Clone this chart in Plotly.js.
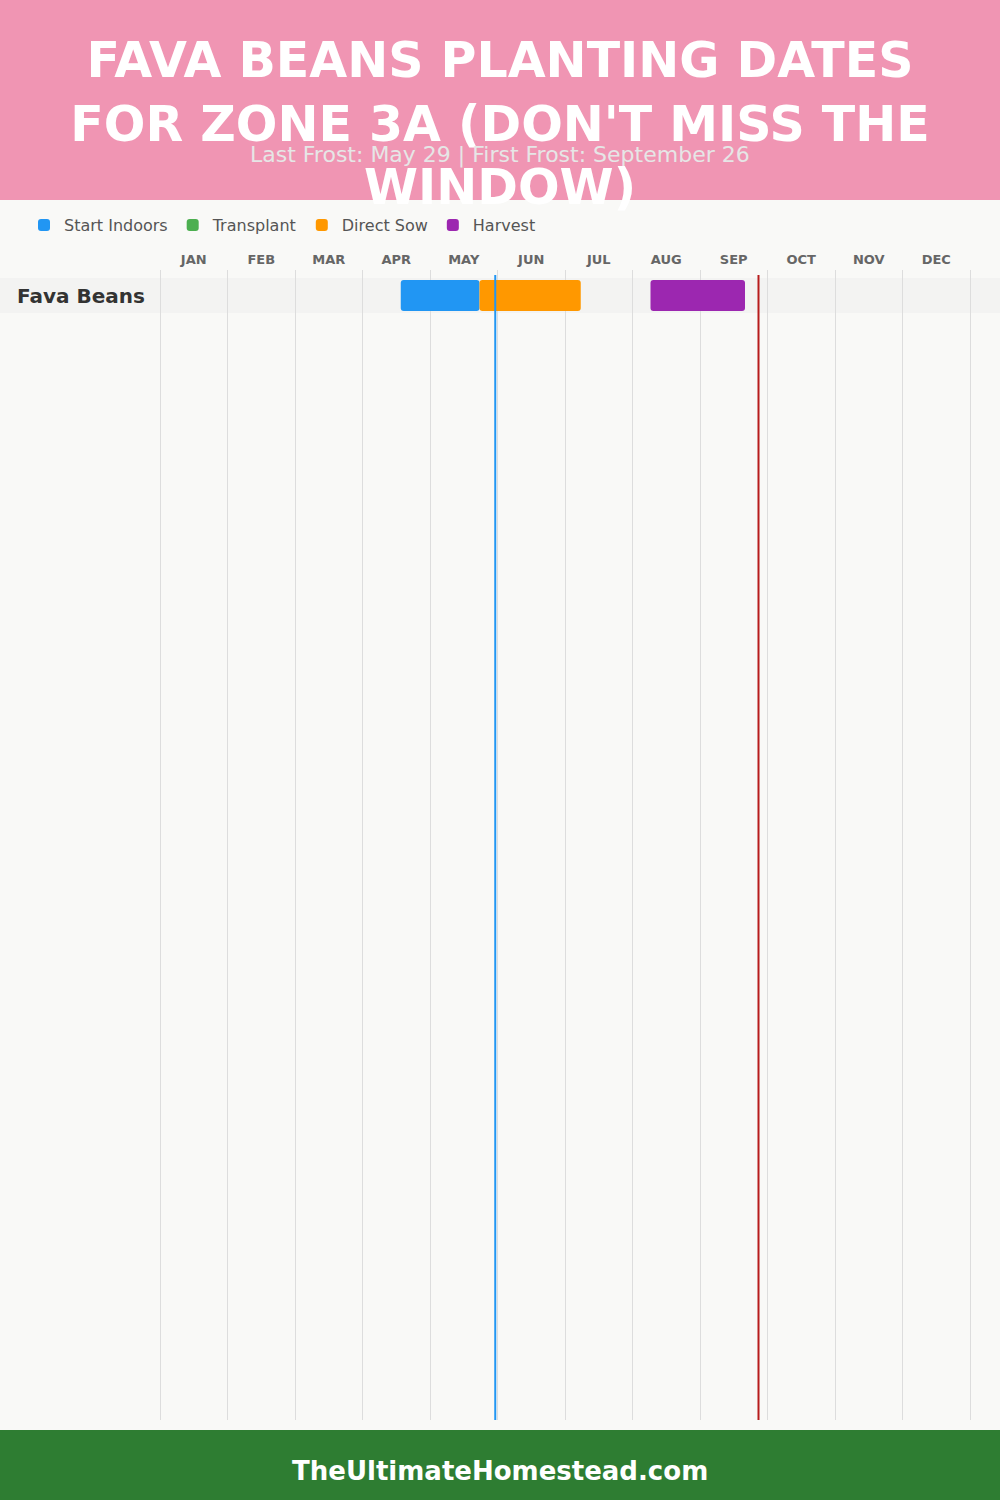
<!DOCTYPE html>
<html><head><meta charset="utf-8">
<script src="https://cdn.plot.ly/plotly-3.0.1.min.js"></script>
<style>html,body{margin:0;padding:0;background:#f9f9f7}#chart{width:1000px;height:1500px}</style>
</head><body><div id="chart"></div>
<script>
// ---- data ----
const titleLines = ["FAVA BEANS PLANTING DATES", "FOR ZONE 3A (DON'T MISS THE", "WINDOW)"];
const subtitle = "Last Frost: May 29 | First Frost: September 26";
const footerText = "TheUltimateHomestead.com";
const months = ["JAN","FEB","MAR","APR","MAY","JUN","JUL","AUG","SEP","OCT","NOV","DEC"];
const crops = ["Fava Beans"];
const phaseNames = ["Start Indoors", "Transplant", "Direct Sow", "Harvest"];
const phaseColors = ["#2196f3", "#4caf50", "#ff9800", "#9c27b0"];
// [month(1-12), day] start / end per crop, null when none
const startIndoorsStart = [[4, 17]];
const startIndoorsEnd   = [[5, 22]];
const transplantStart   = [null];
const transplantEnd     = [null];
const directSowStart    = [[5, 22]];
const directSowEnd      = [[7, 7]];
const harvestStart      = [[8, 8]];
const harvestEnd        = [[9, 20]];
const lastFrost  = [5, 29];
const firstFrost = [9, 26];

// ---- helpers ----
const pos = d => d ? (d[0] - 1) + d[1] / 30 : null;
const starts = [startIndoorsStart, transplantStart, directSowStart, harvestStart];
const ends   = [startIndoorsEnd, transplantEnd, directSowEnd, harvestEnd];

const FONT = 'DejaVu Sans, sans-serif';
const W = 1000, H = 1500, L = 158, R = 28, T = 270, B = 80;
const plotW = W - L - R, plotH = H - T - B;
const eps = 24 / 810;                           // widen range by 2px each side so edge gridlines show
const pxX = px => (px - L) / plotW;            // page px -> paper x
const pxY = py => (H - B - py) / plotH;        // page py -> paper y
const unit = 35;                                // px per category row
const topOff = 25.5 / unit;
const yRange = [plotH / unit - topOff, -topOff];

const traces = phaseNames.map((name, i) => {
  const b = starts[i].map(pos);
  const e = ends[i].map(pos);
  return {
    type: 'bar', orientation: 'h', name: name,
    y: crops, base: b,
    x: e.map((v, k) => (v === null || b[k] === null) ? null : v - b[k]),
    width: 31 / unit,
    marker: {color: phaseColors[i], cornerradius: 3, line: {width: 0}},
    hoverinfo: 'skip', showlegend: true
  };
});

const shapes = [
  {type:'rect', xref:'paper', yref:'paper', x0:pxX(0), x1:pxX(1000), y0:pxY(200), y1:pxY(0),
   fillcolor:'#f095b3', line:{width:0}, layer:'below'},
  {type:'rect', xref:'paper', yref:'paper', x0:pxX(0), x1:pxX(1000), y0:pxY(1500), y1:pxY(1430),
   fillcolor:'#2e7d32', line:{width:0}, layer:'below'},
];
crops.forEach((c, k) => shapes.push({type:'rect', xref:'paper', yref:'y', x0:pxX(0), x1:pxX(1000),
   y0:k - 0.5, y1:k + 0.5, fillcolor:'#f3f3f2', line:{width:0}, layer:'below'}));
shapes.push({type:'line', xref:'x', yref:'paper', x0:pos(lastFrost), x1:pos(lastFrost), y0:0, y1:pxY(275),
   line:{color:'#2196f3', width:2}});
shapes.push({type:'line', xref:'x', yref:'paper', x0:pos(firstFrost), x1:pos(firstFrost), y0:0, y1:pxY(275),
   line:{color:'#b71c1c', width:2}});

const annotations = [
  {xref:'paper', yref:'paper', x:0.5 * (pxX(0) + pxX(1000)), y:pxY(155), xanchor:'center', yanchor:'middle',
   text:subtitle, showarrow:false, font:{family:FONT, size:22, color:'#e6e6e6'}},
  {xref:'paper', yref:'paper', x:0.5 * (pxX(0) + pxX(1000)), y:pxY(1471), xanchor:'center', yanchor:'middle',
   text:'<b>' + footerText + '</b>', showarrow:false, font:{family:FONT, size:26, color:'#ffffff'}},
];
crops.forEach((c, k) => annotations.push({xref:'paper', yref:'y', x:pxX(15), y:k, xanchor:'left', yanchor:'middle',
   text:'<b>' + c + '</b>', showarrow:false, font:{family:FONT, size:20, color:'#333333'}}));

const layout = {
  width: W, height: H,
  margin: {l:L, r:R, t:T, b:B, pad:0},
  paper_bgcolor: '#f9f9f7', plot_bgcolor: '#f9f9f7',
  barmode: 'overlay',
  title: {text: titleLines.join('<br>'), x:0.5, xanchor:'center', xref:'container',
          y: 1 - 77 / H, yanchor:'middle', yref:'container',
          font:{family:FONT, size:49, color:'#ffffff', weight:700}},
  xaxis: {range:[-eps, 12 + eps], side:'top', tickmode:'array',
          tickvals: months.map((m, i) => i + 0.5), ticktext: months,
          showgrid:false, zeroline:false, showline:false, ticks:'', ticklabelstandoff:2,
          tickfont:{family:FONT, size:13, color:'#666666', weight:700},
          minor:{tickmode:'array', tickvals: months.map((m, i) => i).concat([12]), showgrid:true,
                 gridcolor:'#dddddd', gridwidth:1, ticks:''},
          fixedrange:true},
  yaxis: {type:'category', categoryorder:'array', categoryarray:crops, range:yRange,
          showticklabels:false, showgrid:false, zeroline:false, ticks:'', fixedrange:true},
  legend: {orientation:'h', x:pxX(24), xanchor:'left', y:pxY(225), yanchor:'middle',
           font:{family:FONT, size:16, color:'#555555'}, bgcolor:'rgba(0,0,0,0)',
           traceorder:'normal'},
  shapes: shapes, annotations: annotations,
  hovermode:false
};
Plotly.newPlot('chart', traces, layout, {displayModeBar:false, staticPlot:true});
</script></body></html>
